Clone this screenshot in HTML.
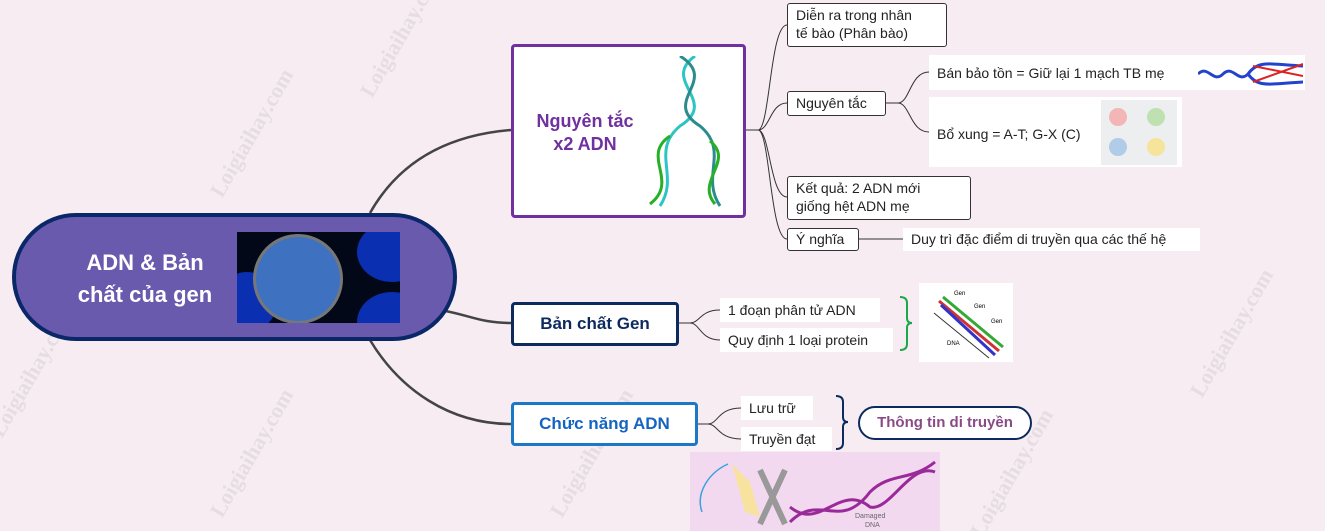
<!DOCTYPE html>
<html style="overflow:hidden"><head><meta charset="utf-8"><style>
html,body{width:1325px;height:531px;overflow:hidden}
body{margin:0;background:#f6ecf2;font-family:"Liberation Sans",sans-serif;position:relative}
.a{position:absolute;box-sizing:border-box}
.bx{border:1px solid #333;background:#fff;border-radius:3px;font-size:14px;color:#222;line-height:18px;padding:2px 8px}
.wb{background:#fff;font-size:14px;color:#222;line-height:18px;padding:3px 8px}
.wm{position:absolute;color:#e6dde2;font-size:22px;font-weight:bold;transform:rotate(-60deg);white-space:nowrap;font-family:"Liberation Serif",serif}
</style></head><body>
<div class="wm" style="left:180px;top:120px">Loigiaihay.com</div>
<div class="wm" style="left:330px;top:20px">Loigiaihay.com</div>
<div class="wm" style="left:-40px;top:360px">Loigiaihay.com</div>
<div class="wm" style="left:520px;top:440px">Loigiaihay.com</div>
<div class="wm" style="left:1160px;top:320px">Loigiaihay.com</div>
<div class="wm" style="left:940px;top:460px">Loigiaihay.com</div>
<div class="wm" style="left:180px;top:440px">Loigiaihay.com</div>
<svg class="a" style="left:0;top:0" width="1325" height="531">
<g fill="none" stroke="#444" stroke-width="2.5">
<path d="M370 213 C400 160,450 135,511 130"/>
<path d="M440 310 C470 315,480 323,511 323"/>
<path d="M370 340 C400 390,450 424,511 424"/>
</g>
<g fill="none" stroke="#333" stroke-width="1">
<path d="M745 130 L758 130 M758 130 C770 130,770 25,787 25 M758 130 C770 130,770 103,787 103 M758 130 C770 130,770 197,787 197 M758 130 C770 130,770 239,787 239"/>
<path d="M885 103 L898 103 C910 103,910 72,929 72 M898 103 C910 103,910 132,929 132"/>
<path d="M858 239 L903 239"/>
<path d="M678 323 L690 323 C700 323,700 310,720 310 M690 323 C700 323,700 340,720 340"/>
<path d="M697 424 L708 424 C718 424,718 408,741 408 M708 424 C718 424,718 439,741 439"/>
</g>
<path d="M900 297 Q907 297,907 303 L907 318 Q907 323,912 323 Q907 323,907 328 L907 344 Q907 350,900 350" fill="none" stroke="#1aa84a" stroke-width="2"/>
<path d="M836 396 Q843 396,843 402 L843 417 Q843 422,848 422 Q843 422,843 427 L843 443 Q843 449,836 449" fill="none" stroke="#0d2a5e" stroke-width="2"/>
</svg>
<div class="a" style="left:12px;top:213px;width:445px;height:128px;border:4px solid #0a2868;border-radius:64px;background:#6a5aae"></div>
<div class="a" style="left:55px;top:247px;width:180px;text-align:center;color:#fff;font-weight:bold;font-size:22px;line-height:32px">ADN &amp; Bản<br>chất của gen</div>
<div class="a" style="left:237px;top:232px;width:163px;height:91px;background:#020818;overflow:hidden">
<div class="a" style="left:120px;top:-10px;width:70px;height:60px;border-radius:50%;background:#0a2fb0"></div>
<div class="a" style="left:120px;top:60px;width:70px;height:60px;border-radius:50%;background:#0a2fb0"></div>
<div class="a" style="left:-20px;top:40px;width:60px;height:60px;border-radius:50%;background:#0a2fb0"></div>
<div class="a" style="left:16px;top:2px;width:90px;height:90px;border-radius:50%;background:#3e72c0;border:3px solid #777"></div>
</div>
<div class="a" style="left:511px;top:44px;width:235px;height:174px;border:3px solid #7030a0;border-radius:4px;background:#fff"></div>
<div class="a" style="left:520px;top:110px;width:130px;text-align:center;color:#7030a0;font-weight:bold;font-size:18px;line-height:23px">Nguyên tắc<br>x2 ADN</div>
<svg class="a" style="left:640px;top:56px" width="95" height="152">
<g fill="none" stroke-width="3">
<path d="M55 0 C20 25,80 45,40 70 C10 95,40 120,20 150" stroke="#2ec4c4"/>
<path d="M40 0 C80 25,20 45,60 70 C90 95,60 120,80 150" stroke="#2a8c8c"/>
<path d="M30 80 C0 100,40 125,10 148" stroke="#27b027"/>
<path d="M70 85 C95 105,55 125,75 148" stroke="#27b027"/>
</g></svg>
<div class="a bx" style="left:787px;top:3px;width:160px;height:44px">Diễn ra trong nhân<br>tế bào (Phân bào)</div>
<div class="a bx" style="left:787px;top:91px;width:99px;height:25px">Nguyên tắc</div>
<div class="a wb" style="left:929px;top:55px;width:376px;height:35px;padding-top:9px">Bán bảo tồn = Giữ lại 1 mạch TB mẹ</div>
<svg class="a" style="left:1198px;top:60px" width="105" height="28"><path d="M0 14 C10 4,15 24,25 14 C35 4,40 24,50 14 C60 0,70 4,105 6 M50 14 C60 28,70 24,105 22" stroke="#2244cc" stroke-width="3" fill="none"/><path d="M55 6 L105 16 M55 22 L105 4" stroke="#d22" stroke-width="2"/></svg>
<div class="a wb" style="left:929px;top:97px;width:253px;height:70px;padding-top:28px">Bổ xung = A-T; G-X (C)</div>
<div class="a" style="left:1101px;top:100px;width:76px;height:65px;background:#eceeef">
<div class="a" style="left:8px;top:8px;width:18px;height:18px;border-radius:50%;background:#f3b5b5"></div>
<div class="a" style="left:46px;top:8px;width:18px;height:18px;border-radius:50%;background:#bfe0b0"></div>
<div class="a" style="left:8px;top:38px;width:18px;height:18px;border-radius:50%;background:#b0cce8"></div>
<div class="a" style="left:46px;top:38px;width:18px;height:18px;border-radius:50%;background:#f5e49a"></div></div>
<div class="a bx" style="left:787px;top:176px;width:184px;height:44px">Kết quả: 2 ADN mới<br>giống hệt ADN mẹ</div>
<div class="a bx" style="left:787px;top:228px;width:72px;height:23px;line-height:16px">Ý nghĩa</div>
<div class="a wb" style="left:903px;top:228px;width:297px;height:23px;line-height:17px">Duy trì đặc điểm di truyền qua các thế hệ</div>
<div class="a" style="left:511px;top:302px;width:168px;height:44px;border:3px solid #0d2a5e;border-radius:4px;background:#fff;text-align:center;font-weight:bold;font-size:17px;line-height:38px;color:#0d2a5e">Bản chất Gen</div>
<div class="a wb" style="left:720px;top:298px;width:160px;height:24px;padding-top:3px">1 đoạn phân tử ADN</div>
<div class="a wb" style="left:720px;top:328px;width:173px;height:24px;padding-top:3px">Quy định 1 loại protein</div>
<div class="a" style="left:919px;top:283px;width:94px;height:79px;background:#fff"></div>
<svg class="a" style="left:919px;top:283px" width="94" height="79"><g stroke-width="3" fill="none"><path d="M20 18 L80 68" stroke="#c33"/><path d="M24 14 L84 64" stroke="#3a3"/><path d="M22 22 L76 72" stroke="#33c"/></g><path d="M15 30 L70 75" stroke="#333"/><text x="35" y="12" font-size="6" font-family="Liberation Sans">Gen</text><text x="55" y="25" font-size="6" font-family="Liberation Sans">Gen</text><text x="72" y="40" font-size="6" font-family="Liberation Sans">Gen</text><text x="28" y="62" font-size="6" font-family="Liberation Sans">DNA</text></svg>
<div class="a" style="left:511px;top:402px;width:187px;height:44px;border:3px solid #1b78c6;border-radius:4px;background:#fff;text-align:center;font-weight:bold;font-size:17px;line-height:38px;color:#1565c0">Chức năng ADN</div>
<div class="a wb" style="left:741px;top:396px;width:72px;height:24px;padding-top:3px">Lưu trữ</div>
<div class="a wb" style="left:741px;top:427px;width:91px;height:24px;padding-top:3px">Truyền đạt</div>
<div class="a" style="left:858px;top:406px;width:174px;height:34px;border:2px solid #0d2a5e;border-radius:17px;background:#fff;text-align:center;font-weight:bold;font-size:15px;line-height:30px;color:#8a4a88">Thông tin di truyền</div>
<div class="a" style="left:690px;top:452px;width:250px;height:79px;background:#f3d9ef"></div>
<svg class="a" style="left:690px;top:452px" width="250" height="79">
<path d="M12 60 C5 40,20 20,38 12" stroke="#3aa0e0" fill="none" stroke-width="1.5"/>
<path d="M42 12 L60 30 L70 65 L55 60 Z" fill="#f8e2a0"/>
<path d="M70 18 L95 72 M95 18 L70 72" stroke="#999" stroke-width="6"/>
<path d="M100 70 C130 40,150 80,180 40 C200 20,220 30,245 10" stroke="#9a2a9a" stroke-width="3" fill="none"/>
<path d="M100 55 C130 80,150 30,180 55 C200 60,220 10,245 20" stroke="#9a2a9a" stroke-width="3" fill="none"/>
<text x="165" y="66" font-size="7" fill="#666" font-family="Liberation Sans">Damaged</text><text x="175" y="75" font-size="7" fill="#666" font-family="Liberation Sans">DNA</text>
</svg>
</body></html>
